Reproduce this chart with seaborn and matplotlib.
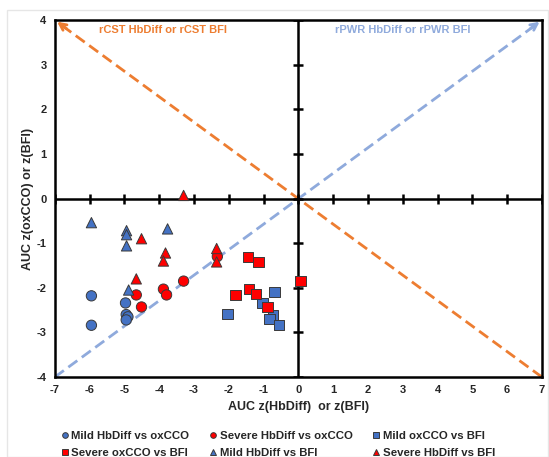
import pandas as pd
import matplotlib.pyplot as plt
import seaborn as sns
import numpy as np

# donnees
mild_hb_ox_x = [-5.95, -5.95, -4.97, -4.95, -4.9, -4.95]
mild_hb_ox_y = [-2.18, -2.84, -2.34, -2.6, -2.65, -2.72]

sev_hb_ox_x = [-4.66, -4.51, -3.88, -3.79, -3.3, -2.33]
sev_hb_ox_y = [-2.16, -2.43, -2.03, -2.16, -1.85, -1.3]

mild_ox_bfi_x = [-2.04, -0.69, -1.03, -0.72, -0.83, -0.55]
mild_ox_bfi_y = [-2.59, -2.09, -2.34, -2.61, -2.7, -2.84]

sev_ox_bfi_x = [-1.44, -1.15, -1.81, -1.41, -1.21, -0.89, 0.06]
sev_ox_bfi_y = [-1.31, -1.42, -2.16, -2.03, -2.14, -2.43, -1.85]

mild_hb_bfi_x = [-5.95, -4.94, -4.94, -4.94, -3.76, -4.88]
mild_hb_bfi_y = [-0.54, -0.72, -0.81, -1.06, -0.68, -2.05]

sev_hb_bfi_x = [-3.3, -4.51, -3.82, -3.88, -4.66, -2.35, -2.35]
sev_hb_bfi_y = [0.07, -0.9, -1.22, -1.4, -1.8, -1.12, -1.42]

groupes = ['Mild HbDiff vs oxCCO', 'Severe HbDiff vs oxCCO', 'Mild oxCCO vs BFI',
           'Severe oxCCO vs BFI', 'Mild HbDiff vs BFI', 'Severe HbDiff vs BFI']
xs = [mild_hb_ox_x, sev_hb_ox_x, mild_ox_bfi_x, sev_ox_bfi_x, mild_hb_bfi_x, sev_hb_bfi_x]
ys = [mild_hb_ox_y, sev_hb_ox_y, mild_ox_bfi_y, sev_ox_bfi_y, mild_hb_bfi_y, sev_hb_bfi_y]

bleu = '#4472C4'
rouge = '#FF0000'
couleurs = [bleu, rouge, bleu, rouge, bleu, rouge]
formes = ['o', 'o', 's', 's', '^', '^']

df = pd.concat([pd.DataFrame({'x': a, 'y': b, 'groupe': g}) for a, b, g in zip(xs, ys, groupes)])

sns.set_style('white')
plt.rcParams['font.family'] = ['Liberation Sans', 'DejaVu Sans']
plt.rcParams['axes.unicode_minus'] = False

fig = plt.figure(figsize=(5.49, 4.57), dpi=100)
fig.patches.append(plt.Rectangle((0.013, 0.0), 0.985, 0.978, transform=fig.transFigure,
                                 fill=False, edgecolor='#e6e6e6', lw=1))
ax = fig.add_axes([0.100, 0.175, 0.887, 0.781])

# lignes de reference avec fleches
orange = '#ED7D31'
bleuclair = '#8FAADC'
ax.plot([7, -6.8], [-4, 3.88], color=orange, ls=(0, (4, 2)), lw=2, zorder=1)
ax.plot([-7, 6.8], [-4, 3.88], color=bleuclair, ls=(0, (4, 2)), lw=2, zorder=1)
ax.annotate('', xy=(-7, 4), xytext=(-6.6, 3.77),
            arrowprops=dict(arrowstyle='->', color=orange, lw=2, mutation_scale=12))
ax.annotate('', xy=(7, 4), xytext=(6.6, 3.77),
            arrowprops=dict(arrowstyle='->', color=bleuclair, lw=2, mutation_scale=12))

# axes centraux avec graduations
ax.axhline(0, color='black', lw=1.8, zorder=2)
ax.axvline(0, color='black', lw=1.8, zorder=2)
graduations = np.arange(-7, 8)
ax.plot(graduations, np.zeros_like(graduations), ls='none', marker='|', ms=7, mew=1.8, color='black', zorder=2)
gy = np.arange(-4, 5)
ax.plot(np.zeros_like(gy), gy, ls='none', marker='_', ms=7, mew=1.8, color='black', zorder=2)

sns.scatterplot(data=df, x='x', y='y', hue='groupe', style='groupe', hue_order=groupes,
                style_order=groupes, palette=couleurs, markers=formes, s=55,
                edgecolor='#3a3a3a', linewidth=0.7, ax=ax, zorder=3)

ax.text(-3.9, 3.78, 'rCST HbDiff or rCST BFI', color=orange, fontsize=8, fontweight='bold',
        ha='center', va='center')
ax.text(3.0, 3.78, 'rPWR HbDiff or rPWR BFI', color=bleuclair, fontsize=8, fontweight='bold',
        ha='center', va='center')

ax.set_xlim(-7, 7)
ax.set_ylim(-4, 4)
ax.set_xticks(graduations)
ax.set_yticks(gy)
ax.tick_params(length=0, labelsize=8, pad=6)
for t in ax.get_xticklabels() + ax.get_yticklabels():
    t.set_fontweight('bold')
for s in ax.spines.values():
    s.set_color('black')
    s.set_linewidth(1.8)
ax.set_xlabel('AUC z(HbDiff)  or z(BFI)', fontsize=9, fontweight='bold', labelpad=4)
ax.set_ylabel('AUC z(oxCCO) or z(BFI)', fontsize=9, fontweight='bold', labelpad=2)

h, l = ax.get_legend_handles_labels()
ax.get_legend().remove()
ordre = [0, 3, 1, 4, 2, 5]
fig.legend([h[i] for i in ordre], [l[i] for i in ordre], ncol=3, loc='upper center',
           bbox_to_anchor=(0.505, 0.075), frameon=False, prop={'weight': 'bold', 'size': 8.2},
           handletextpad=0.05, columnspacing=1.6, labelspacing=0.6, handlelength=1,
           markerscale=0.55, borderpad=0.2)

fig.savefig('out.png', dpi=100)
